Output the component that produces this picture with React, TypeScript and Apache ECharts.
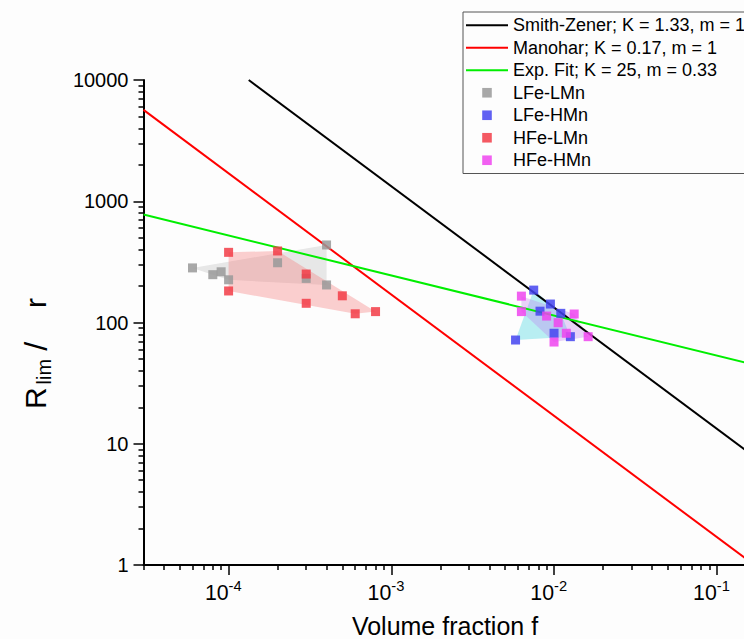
import React, { useEffect, useRef } from "react";
import * as echarts from "echarts";

// ---- axis ticks ----
const xMajorTicks = [1e-4, 1e-3, 1e-2, 1e-1];
const yMajorTicks = [1, 10, 100, 1000, 10000];
const xMinorTicks: number[] = [];
for (let e = -5; e <= -1; e++) for (let k = 2; k <= 9; k++) { const v = k * Math.pow(10, e); if (v >= 3e-5) xMinorTicks.push(Number(v.toPrecision(3))); }
const yMinorTicks: number[] = [];
for (let e = 0; e <= 3; e++) for (let k = 2; k <= 9; k++) yMinorTicks.push(k * Math.pow(10, e));

// ---- model lines (endpoints) ----
const smithZenerF = [1.33e-4, 1];
const smithZenerR = [10000, 1.33];
const manoharF = [3e-5, 1];
const manoharR = [5667, 0.17];
const expFitF = [3e-5, 1];
const expFitR = [777, 25];

// ---- measured points ----
const grayF = [6e-5, 8e-5, 9e-5, 1e-4, 2e-4, 3e-4, 4e-4, 4e-4];
const grayR = [282, 248, 262, 225, 311, 231, 436, 204];
const redF = [1e-4, 1e-4, 2e-4, 3e-4, 3e-4, 5e-4, 6e-4, 8e-4];
const redR = [379, 182, 389, 251, 144, 166, 118, 123];
const blueF = [7.5e-3, 9.5e-3, 8.2e-3, 1.1e-2, 1.0e-2, 5.8e-3, 1.26e-2];
const blueR = [185, 142, 124, 119, 81.5, 71.7, 76.4];
const magF = [6.3e-3, 6.3e-3, 9.0e-3, 1.06e-2, 1.33e-2, 1.0e-2, 1.19e-2, 1.62e-2];
const magR = [165, 123, 113, 99.6, 117.5, 69, 81.5, 76.4];

const FONT = "'Liberation Sans', Arial, sans-serif";

function zip(a: number[], b: number[]) {
  return a.map((v, i) => [v, b[i]]);
}

function convexHull(pts: number[][]) {
  const p = pts.slice().sort((a, b) => (a[0] - b[0]) || (a[1] - b[1]));
  const cross = (o: number[], a: number[], b: number[]) => (a[0] - o[0]) * (b[1] - o[1]) - (a[1] - o[1]) * (b[0] - o[0]);
  const lower: number[][] = [];
  for (const q of p) { while (lower.length >= 2 && cross(lower[lower.length - 2], lower[lower.length - 1], q) <= 0) lower.pop(); lower.push(q); }
  const upper: number[][] = [];
  for (let i = p.length - 1; i >= 0; i--) { const q = p[i]; while (upper.length >= 2 && cross(upper[upper.length - 2], upper[upper.length - 1], q) <= 0) upper.pop(); upper.push(q); }
  upper.pop(); lower.pop();
  return lower.concat(upper);
}

function hullSeries(f: number[], r: number[], fill: string) {
  return {
    type: "custom",
    silent: true,
    z: 1,
    xAxisIndex: 0,
    yAxisIndex: 0,
    data: zip(f, r),
    encode: { x: 0, y: 1 },
    renderItem: (params: any, api: any) => {
      if (params.dataIndex !== 0) return { type: "group", children: [] };
      const pts = f.map((v, i) => api.coord([v, r[i]]));
      return { type: "polygon", shape: { points: convexHull(pts) }, style: { fill } };
    },
  };
}

function lineSeries(name: string, f: number[], r: number[], color: string) {
  return {
    name,
    type: "line",
    z: 2,
    data: zip(f, r),
    symbol: "none",
    clip: true,
    lineStyle: { color, width: 2 },
    itemStyle: { color },
  };
}

function pointSeries(name: string, f: number[], r: number[], color: string) {
  return {
    name,
    type: "line",
    z: 3,
    data: zip(f, r),
    symbol: "rect",
    symbolSize: 9,
    showSymbol: true,
    showAllSymbol: true,
    lineStyle: { opacity: 0, width: 0 },
    itemStyle: { color, opacity: 0.85 },
  };
}

export default function App() {
  const ref = useRef<HTMLDivElement>(null);
  useEffect(() => {
    if (!ref.current) return;
    const chart = echarts.init(ref.current, null, { renderer: "svg" });
    const axisColor = "#000";
    const option: any = {
      animation: false,
      backgroundColor: "#fdfdfd",
      textStyle: { fontFamily: FONT },
      grid: { left: 143.5, top: 80, width: 736, height: 485, containLabel: false, outerBoundsMode: "none" },
      xAxis: [
        {
          type: "log",
          min: 3e-5,
          max: 1,
          position: "bottom",
          name: "Volume fraction f",
          nameLocation: "middle",
          nameGap: 48,
          nameTextStyle: { fontSize: 25, color: "#000", fontFamily: FONT, padding: [0, 133, 0, 0] },
          axisLine: { show: true, onZero: false, lineStyle: { color: axisColor, width: 2 } },
          axisTick: { show: true, inside: false, length: 10, customValues: xMajorTicks, lineStyle: { color: axisColor, width: 1.5 } },
          minorTick: { show: false },
          splitLine: { show: false },
          axisLabel: {
            show: true,
            margin: 17,
            fontSize: 21.3,
            color: "#000",
            fontFamily: FONT,
            align: "right",
            customValues: xMajorTicks,
            formatter: () => "10",
          },
        },
        {
          type: "log",
          min: 3e-5,
          max: 1,
          position: "bottom",
          axisLine: { show: false },
          axisTick: { show: true, inside: false, length: 5, customValues: xMinorTicks, lineStyle: { color: axisColor, width: 1.5 } },
          axisLabel: {
            show: true,
            margin: 13,
            fontSize: 14.7,
            color: "#000",
            fontFamily: FONT,
            align: "left",
            customValues: xMajorTicks,
            formatter: (v: number) => String(Math.round(Math.log10(v))),
          },
          splitLine: { show: false },
        },
      ],
      yAxis: [
        {
          type: "log",
          min: 1,
          max: 10000,
          position: "left",
          name: "{a|R}{s|lim}{g|/}{a|r}",
          nameLocation: "middle",
          nameRotate: 90,
          nameGap: 90,
          nameTextStyle: {
            color: "#000",
            fontSize: 30,
            fontFamily: FONT,
            padding: [0, 62, 0, 0],
            rich: {
              a: { fontSize: 30, color: "#000", fontFamily: FONT, lineHeight: 36 },
              s: { fontSize: 20, color: "#000", fontFamily: FONT, lineHeight: 20, verticalAlign: "bottom", padding: [0, 0, 0, 3] },
              g: { fontSize: 32, color: "#000", fontFamily: FONT, lineHeight: 36, padding: [0, 34, 0, 8] },
            },
          },
          axisLine: { show: true, onZero: false, lineStyle: { color: axisColor, width: 2 } },
          axisTick: { show: true, inside: false, length: 10, customValues: yMajorTicks, lineStyle: { color: axisColor, width: 1.5 } },
          splitLine: { show: false },
          axisLabel: { show: true, margin: 15, fontSize: 20, color: "#000", fontFamily: FONT, customValues: yMajorTicks, formatter: (v: number) => String(Math.round(v)) },
        },
        {
          type: "log",
          min: 1,
          max: 10000,
          position: "left",
          axisLine: { show: false },
          axisTick: { show: true, inside: false, length: 5, customValues: yMinorTicks, lineStyle: { color: axisColor, width: 1.5 } },
          axisLabel: { show: false },
          splitLine: { show: false },
        },
      ],
      legend: {
        orient: "vertical",
        left: 463,
        top: 12,
        itemWidth: 42,
        itemHeight: 12,
        itemGap: 0,
        padding: [2, 6, 2, 2],
        borderColor: "#555",
        borderWidth: 1,
        selectedMode: false,
        textStyle: { fontSize: 18, color: "#000", fontFamily: FONT, lineHeight: 22.5 },
        data: [
          { name: "Smith-Zener; K = 1.33, m = 1", itemStyle: { opacity: 0 } },
          { name: "Manohar; K = 0.17, m = 1", itemStyle: { opacity: 0 } },
          { name: "Exp. Fit; K = 25, m = 0.33", itemStyle: { opacity: 0 } },
          { name: "LFe-LMn" },
          { name: "LFe-HMn" },
          { name: "HFe-LMn" },
          { name: "HFe-HMn" },
        ],
      },
      series: [
        hullSeries(grayF, grayR, "rgba(190,190,190,0.35)"),
        hullSeries(redF, redR, "rgba(245,110,110,0.32)"),
        hullSeries(blueF, blueR, "rgba(80,215,225,0.4)"),
        hullSeries(magF, magR, "rgba(190,120,240,0.32)"),
        lineSeries("Smith-Zener; K = 1.33, m = 1", smithZenerF, smithZenerR, "#000000"),
        lineSeries("Manohar; K = 0.17, m = 1", manoharF, manoharR, "#ff0000"),
        lineSeries("Exp. Fit; K = 25, m = 0.33", expFitF, expFitR, "#00ee00"),
        pointSeries("LFe-LMn", grayF, grayR, "#999999"),
        pointSeries("LFe-HMn", blueF, blueR, "#4444f0"),
        pointSeries("HFe-LMn", redF, redR, "#f23c46"),
        pointSeries("HFe-HMn", magF, magR, "#ee44ee"),
      ],
    };
    chart.setOption(option);
    return () => chart.dispose();
  }, []);
  return (
    <div
      ref={ref}
      style={{ position: "fixed", left: 0, top: 0, width: 744, height: 639, overflow: "hidden" }}
    />
  );
}
